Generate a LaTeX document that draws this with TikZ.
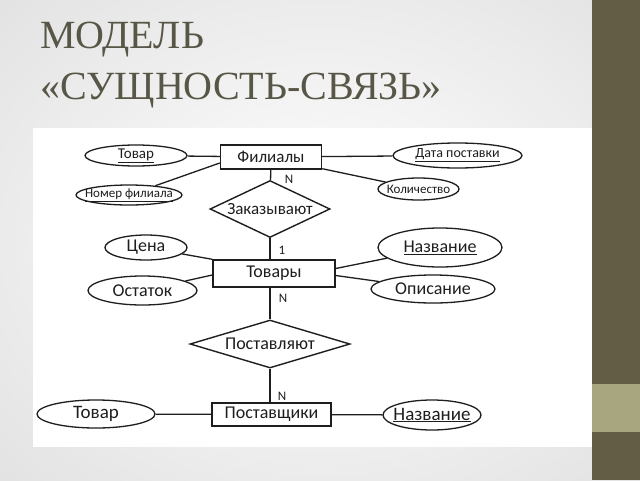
\documentclass[tikz,border=0pt]{standalone}
\usepackage{fontspec}
\usetikzlibrary{shapes.geometric}
\newfontfamily\titlefont{Liberation Serif}
\newfontfamily\dfont{Carlito}
\definecolor{titlec}{RGB}{88,86,70}
\definecolor{barc}{RGB}{100,93,70}
\definecolor{bandc}{RGB}{168,166,126}
\definecolor{inkc}{RGB}{30,30,30}
\newcommand{\fs}[1]{\dfont\fontsize{#1}{#1}\selectfont}
\newcommand{\zt}[1]{\makebox[0pt]{#1}}
\begin{document}
\begin{tikzpicture}[x=1pt,y=-1pt,
  ent/.style={draw=inkc,line width=1.4pt,rectangle,inner sep=0pt,font=\fs{17},text=inkc},
  rel/.style={draw=inkc,line width=1.4pt,diamond,inner sep=0pt,font=\fs{17},text=inkc},
  attr/.style={draw=inkc,line width=1.3pt,ellipse,inner sep=0pt,text=inkc},
  card/.style={font=\fs{13},text=inkc,inner sep=0pt},
  conn/.style={draw=inkc,line width=1.3pt}]
\useasboundingbox (0,0) rectangle (640,480);
% background
\shade[inner color=white,outer color=gray!22] (-120,-100) rectangle (760,580);
\fill[white] (33,128) rectangle (592,447);
\fill[barc] (592,0) rectangle (640,480);
\fill[bandc] (592,384) rectangle (640,432);
% title
\node[anchor=base west,inner sep=0pt,text=titlec,font=\titlefont\fontsize{40}{40}\selectfont] (t1) at (40,48) {МОДЕЛЬ};
\node[anchor=base west,inner sep=0pt,text=titlec,font=\titlefont\fontsize{40}{40}\selectfont] (t2) at (40,99) {«СУЩНОСТЬ-СВЯЗЬ»};
% entities
\node[ent,minimum width=101pt,minimum height=24pt] (fil) at (271,157) {Филиалы};
\node[ent,minimum width=122pt,minimum height=27pt,font=\fs{18}] (tov) at (274,273.5) {Товары};
\node[ent,minimum width=119pt,minimum height=23pt,font=\fs{18}] (post) at (271.5,414.5) {Поставщики};
% relations
\node[rel,shape aspect=2.1,minimum width=120pt,minimum height=57pt] (zak) at (270,209) {Заказывают};
\node[rel,shape aspect=3.33,minimum width=160pt,minimum height=48pt,font=\fs{18}] (pst) at (270,344) {Поставляют};
% attributes
\node[attr,minimum width=102pt,minimum height=21pt,font=\fs{15}] (a1) at (136,155.5) {\zt{\underline{Товар}}};
\node[attr,minimum width=106pt,minimum height=20pt,font=\fs{13}] (a2) at (129,195) {\zt{\underline{Номер филиала}}};
\node[attr,minimum width=129pt,minimum height=25pt,font=\fs{14}] (a3) at (457.5,155.5) {\zt{\underline{Дата поставки}}};
\node[attr,minimum width=81pt,minimum height=22pt,font=\fs{13}] (a4) at (418.5,189) {\zt{Количество}};
\node[attr,minimum width=82pt,minimum height=25pt,font=\fs{18}] (a5) at (146,247.5) {\zt{Цена}};
\node[attr,minimum width=109pt,minimum height=29pt,font=\fs{18}] (a6) at (142.5,290.5) {\zt{Остаток}};
\node[attr,minimum width=124pt,minimum height=39pt,font=\fs{18}] (a7) at (440,247.5) {\zt{\underline{Название}}};
\node[attr,minimum width=124pt,minimum height=28pt,font=\fs{18}] (a8) at (433,289) {\zt{Описание}};
\node[attr,minimum width=118pt,minimum height=28pt,font=\fs{19}] (a9) at (96,414) {\zt{Товар}};
\node[attr,minimum width=98pt,minimum height=30pt,font=\fs{19}] (a10) at (432,415) {\zt{\underline{Название}}};
% connectors
\draw[conn] (a1) -- (fil);
\draw[conn] (a2) -- ([yshift=-6pt]fil.west);
\draw[conn] (fil) -- (a3);
\draw[conn] ([yshift=1pt]fil.south east) -- (a4);
\draw[conn] (fil) -- (zak);
\draw[conn] (zak) -- (zak|-tov.north);
\draw[conn] (a5) -- (tov.north west);
\draw[conn] (a6) -- ([yshift=-1.5pt]tov.west);
\draw[conn] ([yshift=5pt]tov.east) -- (a7);
\draw[conn] ([yshift=-2pt]tov.east) -- (a8);
\draw[conn] (zak|-tov.south) -- (pst);
\draw[conn] (pst) -- (pst|-post.north);
\draw[conn] (a9) -- (post);
\draw[conn] (post) -- (a10);
% cardinalities
\node[card] (c1) at (289,179) {N};
\node[card] (c2) at (282,250) {1};
\node[card] (c3) at (283,298) {N};
\node[card] (c4) at (282,396) {N};
\end{tikzpicture}
\end{document}
